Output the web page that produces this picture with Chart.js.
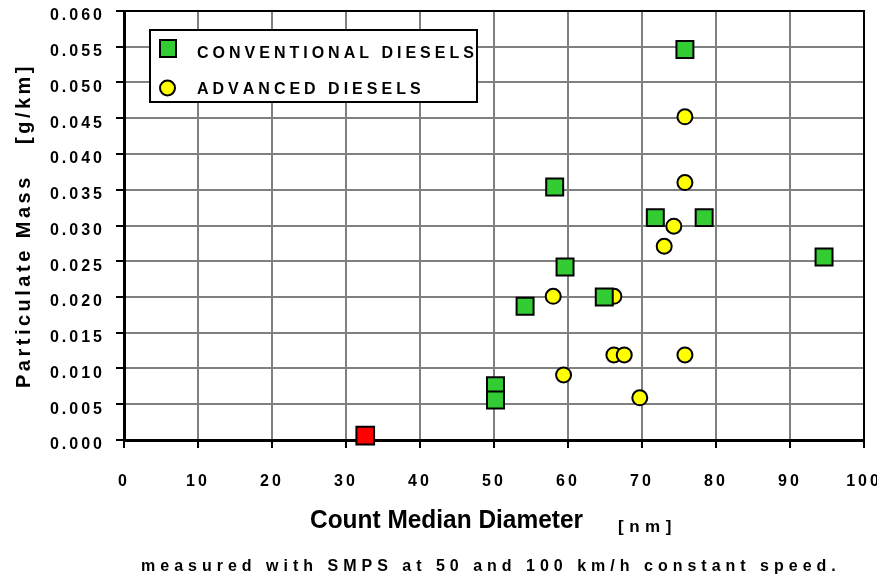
<!DOCTYPE html>
<html><head><meta charset="utf-8">
<script src="https://cdn.jsdelivr.net/npm/chart.js@4.4.1/dist/chart.umd.min.js"></script>
<style>html,body{margin:0;padding:0;background:#fff;}#wrap{width:877px;height:578px;position:relative;}</style>
</head><body><div id="wrap"><canvas id="c" width="877" height="578"></canvas></div>
<script>
const conventionalX = [75.8, 58.2, 71.8, 78.4, 94.6, 59.6, 64.9, 54.2, 50.2, 50.2];
const conventionalY = [0.0546, 0.0354, 0.0311, 0.0311, 0.0256, 0.0242, 0.0200, 0.0187, 0.0076, 0.0056];
const advancedX = [75.8, 75.8, 74.3, 73.0, 58.0, 66.2, 66.2, 67.6, 75.8, 59.4, 69.7];
const advancedY = [0.0452, 0.0360, 0.0299, 0.0271, 0.0201, 0.0201, 0.0119, 0.0119, 0.0119, 0.0091, 0.0059];
const specialX = [32.6];
const specialY = [0.0006];
const xTicks = [0, 10, 20, 30, 40, 50, 60, 70, 80, 90, 100];
const yTicks = [0, 0.005, 0.010, 0.015, 0.020, 0.025, 0.030, 0.035, 0.040, 0.045, 0.050, 0.055, 0.060];
const seriesLabels = ['CONVENTIONAL DIESELS', 'ADVANCED DIESELS'];
const xTitle = 'Count Median Diameter';
const xUnit = '[nm]';
const yTitle = 'Particulate Mass';
const yUnit = '[g/km]';
const note = 'measured with SMPS at 50 and 100 km/h constant speed.';

const FONT = "'Liberation Sans', Arial, sans-serif";
const GREEN = '#33CC33', YELLOW = '#FFFF00', RED = '#FF0000';

function toPts(xs, ys) { return xs.map((x, i) => ({ x: x, y: ys[i] })); }

function drawSpaced(ctx, text, x, y, sp) {
  for (const ch of text) {
    ctx.fillText(ch, x, y);
    x += ctx.measureText(ch).width + sp;
  }
}

const decor = {
  id: 'decor',
  beforeDraw(chart) {
    chart.ctx.letterSpacing = '3px';
  },
  afterDraw(chart) {
    const ctx = chart.ctx, a = chart.chartArea;
    ctx.save();
    ctx.letterSpacing = '0px';
    // frame (top & right)
    ctx.strokeStyle = '#000';
    ctx.lineWidth = 2;
    ctx.beginPath();
    ctx.moveTo(a.left, a.top); ctx.lineTo(a.right, a.top); ctx.lineTo(a.right, a.bottom);
    ctx.stroke();
    // legend
    ctx.fillStyle = '#fff';
    ctx.fillRect(150, 30, 327, 72);
    ctx.strokeRect(150, 30, 327, 72);
    ctx.lineWidth = 2;
    ctx.fillStyle = GREEN;
    ctx.fillRect(160, 40, 16, 17);
    ctx.strokeRect(160, 40, 16, 17);
    ctx.beginPath();
    ctx.arc(167.5, 88, 7.5, 0, Math.PI * 2);
    ctx.fillStyle = YELLOW; ctx.fill(); ctx.stroke();
    ctx.fillStyle = '#000';
    ctx.textBaseline = 'alphabetic';
    ctx.textAlign = 'left';
    ctx.font = 'bold 16px ' + FONT;
    drawSpaced(ctx, seriesLabels[0], 197, 58, 4);
    drawSpaced(ctx, seriesLabels[1], 197, 94, 4);
    // x title
    ctx.font = 'bold 26px ' + FONT;
    const w = ctx.measureText(xTitle).width;
    ctx.save(); ctx.translate(310, 528); ctx.scale(273 / w, 1);
    ctx.fillText(xTitle, 0, 0); ctx.restore();
    ctx.font = 'bold 17px ' + FONT;
    drawSpaced(ctx, xUnit, 618, 532, 5.5);
    // note
    ctx.font = 'bold 16px ' + FONT;
    drawSpaced(ctx, note, 141, 571, 5);
    // y title
    ctx.font = 'bold 20px ' + FONT;
    ctx.save(); ctx.translate(30, 388); ctx.rotate(-Math.PI / 2);
    drawSpaced(ctx, yTitle, 0, 0, 3.5); ctx.restore();
    ctx.save(); ctx.translate(30, 144); ctx.rotate(-Math.PI / 2);
    drawSpaced(ctx, yUnit, 0, 0, 3.5); ctx.restore();
    ctx.restore();
  }
};

const tickFont = { family: FONT, weight: 'bold', size: 16 };

new Chart(document.getElementById('c'), {
  type: 'scatter',
  data: {
    datasets: [
      { label: seriesLabels[0], data: toPts(conventionalX, conventionalY), pointStyle: 'rect', pointRadius: 12, pointHoverRadius: 12,
        backgroundColor: GREEN, borderColor: '#000', pointBorderWidth: 2, borderWidth: 2, clip: false },
      { label: seriesLabels[1], data: toPts(advancedX, advancedY), pointStyle: 'circle', pointRadius: 7.5, pointHoverRadius: 7.5,
        backgroundColor: YELLOW, borderColor: '#000', pointBorderWidth: 2, borderWidth: 2, clip: false },
      { label: '', data: toPts(specialX, specialY), pointStyle: 'rect', pointRadius: 12.5, pointHoverRadius: 12.5,
        backgroundColor: RED, borderColor: '#000', pointBorderWidth: 2, borderWidth: 2, clip: false }
    ]
  },
  options: {
    responsive: false,
    animation: false,
    devicePixelRatio: 1,
    layout: { autoPadding: false, padding: { top: 11, right: 13, left: 0, bottom: 0 } },
    plugins: { legend: { display: false }, tooltip: { enabled: false }, title: { display: false } },
    scales: {
      x: {
        type: 'linear', min: 0, max: 100,
        afterBuildTicks: s => { s.ticks = xTicks.map(v => ({ value: v })); },
        afterFit: s => { s.height = 138; s.paddingLeft = 0; s.paddingRight = 0; },
        ticks: { font: tickFont, color: '#000', padding: 24, maxRotation: 0, autoSkip: false, callback: v => String(v) },
        grid: { color: '#808080', lineWidth: 2, tickColor: '#000', tickWidth: 2, tickLength: 8 },
        border: { color: '#000', width: 3 }
      },
      y: {
        type: 'linear', min: 0, max: 0.06,
        afterBuildTicks: s => { s.ticks = yTicks.map(v => ({ value: v })); },
        afterFit: s => { s.width = 124; s.paddingTop = 0; s.paddingBottom = 0; },
        ticks: { font: tickFont, color: '#000', padding: 11, labelOffset: 5, autoSkip: false, callback: v => v.toFixed(3) },
        grid: { color: '#808080', lineWidth: 2, tickColor: '#000', tickWidth: 2, tickLength: 8 },
        border: { color: '#000', width: 3 }
      }
    }
  },
  plugins: [decor]
});
</script></body></html>
